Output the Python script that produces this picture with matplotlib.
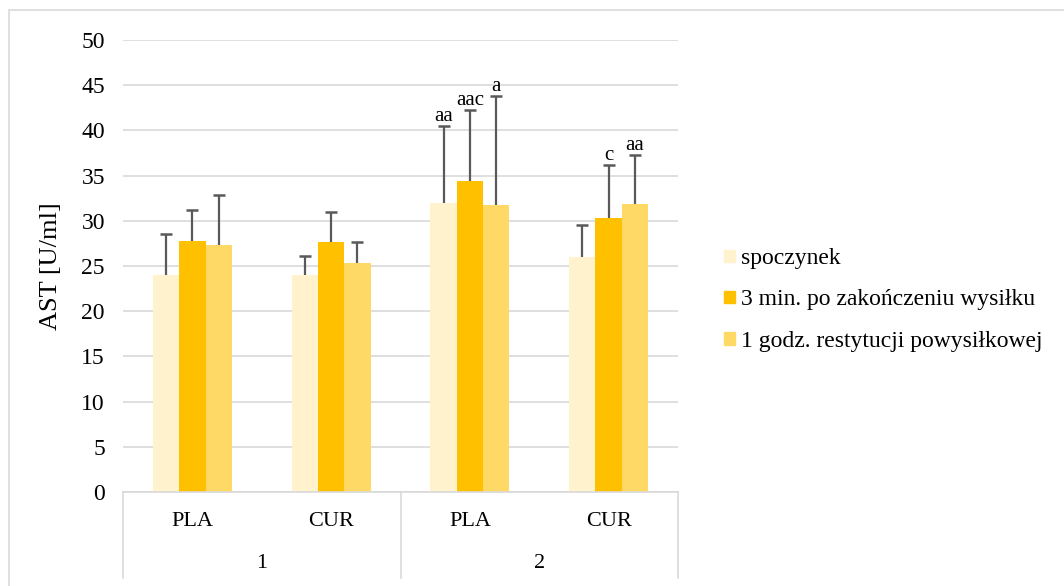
import numpy as np
import matplotlib.pyplot as plt
from matplotlib.patches import Rectangle, Patch

plt.rcParams['font.family'] = ['Liberation Serif', 'DejaVu Serif']

# --- data ---
groups = ["1", "2"]
subgroups = ["PLA", "CUR", "PLA", "CUR"]
series = ["spoczynek", "3 min. po zakończeniu wysiłku", "1 godz. restytucji powysiłkowej"]
colors = ["#FFF2CC", "#FFC000", "#FFD966"]

spoczynek = [24.0, 24.0, 32.0, 26.0]
po_3min = [27.8, 27.7, 34.4, 30.3]
po_1h = [27.3, 25.3, 31.8, 31.9]

err_spoczynek = [4.5, 2.1, 8.5, 3.5]
err_3min = [3.4, 3.3, 7.9, 5.9]
err_1h = [5.5, 2.4, 12.0, 5.4]

ann_spoczynek = ["", "", "aa", ""]
ann_3min = ["", "", "aac", "c"]
ann_1h = ["", "", "a", "aa"]

values = [spoczynek, po_3min, po_1h]
errors = [err_spoczynek, err_3min, err_1h]
annots = [ann_spoczynek, ann_3min, ann_1h]

# --- figure ---
fig = plt.figure(figsize=(10.64, 5.86), dpi=100)
ax = fig.add_axes([123 / 1064, 1 - 492 / 586, (678 - 123) / 1064, (492 - 40) / 586])

x = np.arange(len(subgroups))
w = 0.19
for i in range(3):
    pos = x + (i - 1) * w
    vals = np.array(values[i])
    tops = vals + np.array(errors[i])
    ax.bar(pos, vals, w, color=colors[i], zorder=2, label=series[i])
    # upper error bars only (no cap at the bar top)
    ax.vlines(pos, vals, tops, color='#595959', lw=1.6, zorder=3)
    ax.plot(pos, tops, ls='none', marker='_', ms=9, mew=1.8, color='#595959', zorder=3)
    for p, t_y, t in zip(pos, tops, annots[i]):
        if t:
            ax.annotate(t, (p, t_y), xytext=(0, 0), textcoords='offset points',
                        ha='center', va='bottom', fontsize=15)

ax.set_ylim(0, 50)
ax.set_xlim(-0.5, 3.5)
ax.set_yticks(np.arange(0, 51, 5))
ax.tick_params(axis='y', length=0, labelsize=17, pad=13)
ax.set_xticks([])
ax.yaxis.grid(True, color='#D9D9D9', linewidth=1.2, zorder=0)
ax.set_axisbelow(True)
for s in ['top', 'right', 'left']:
    ax.spines[s].set_visible(False)
ax.spines['bottom'].set_color('#D9D9D9')
ax.spines['bottom'].set_linewidth(1.2)
ax.set_ylabel("AST [U/ml]", fontsize=19, labelpad=14)

# two-level category axis
trans = ax.get_xaxis_transform()
bottom = -(578 - 492) / 452
for xv in [-0.5, 1.5, 3.5]:
    ax.plot([xv, xv], [0, bottom], transform=trans, color='#D9D9D9', lw=1.2, clip_on=False)
for xi, lab in zip(x, subgroups):
    ax.text(xi, -(521 - 492) / 452, lab, transform=trans, ha='center', va='center', fontsize=16)
for gi, lab in enumerate(groups):
    ax.text(0.5 + 2 * gi, -(563 - 492) / 452, lab, transform=trans, ha='center', va='center', fontsize=16)

handles = [Patch(color=c) for c in colors]
fig.legend(handles, series, loc='center left', bbox_to_anchor=(703 / 1064, 1 - 300 / 586),
           frameon=False, fontsize=17, handlelength=0.45, handleheight=0.45,
           handletextpad=0.25, labelspacing=0.85)

# outer chart border
fig.patches.append(Rectangle((9 / 1064, -0.05), 1.2, 1 - 10 / 586 + 0.05, transform=fig.transFigure,
                             fill=False, edgecolor='#D9D9D9', linewidth=1.2))

fig.savefig("out.png", dpi=100)
